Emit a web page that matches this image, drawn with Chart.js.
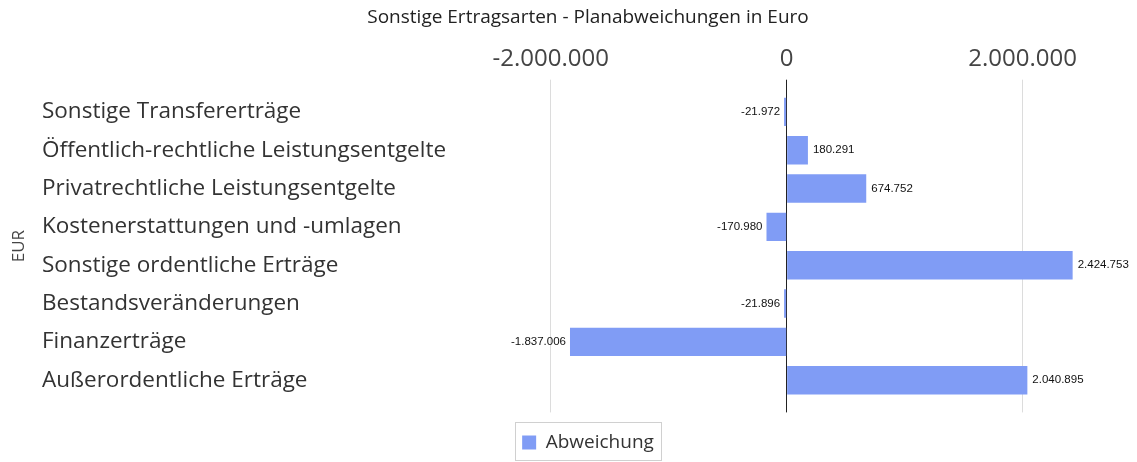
<!DOCTYPE html>
<html>
<head>
<meta charset="utf-8">
<script src="https://cdn.jsdelivr.net/npm/chart.js@4.4.1/dist/chart.umd.min.js"></script>
<style>
  html, body { margin: 0; padding: 0; background: #ffffff; }
  #c { display: block; }
</style>
</head>
<body>
<canvas id="c" width="1137" height="462"></canvas>
<script>
const categories = [
  'Sonstige Transfererträge',
  'Öffentlich-rechtliche Leistungsentgelte',
  'Privatrechtliche Leistungsentgelte',
  'Kostenerstattungen und -umlagen',
  'Sonstige ordentliche Erträge',
  'Bestandsveränderungen',
  'Finanzerträge',
  'Außerordentliche Erträge'
];
const abweichung = [-21972, 180291, 674752, -170980, 2424753, -21896, -1837006, 2040895];
const tickValues = [-2000000, 0, 2000000];
const seriesName = 'Abweichung';
const chartTitle = 'Sonstige Ertragsarten - Planabweichungen in Euro';
const axisTitle = 'EUR';

const BAR_COLOR = '#809CF5';
const GRID_COLOR = '#dcdcdc';
const ZERO_COLOR = '#222222';

function fmt(v) {
  const s = Math.abs(Math.round(v)).toString().replace(/\B(?=(\d{3})+(?!\d))/g, '.');
  return (v < 0 ? '-' : '') + s;
}
function gridColor(ctx) {
  return (ctx.tick && ctx.tick.value === 0) ? ZERO_COLOR : GRID_COLOR;
}
function setTicks(scale) {
  scale.ticks = tickValues.map(v => ({ value: v }));
}

const valueLabels = {
  id: 'valueLabels',
  afterDatasetsDraw(chart) {
    const ctx = chart.ctx;
    const meta = chart.getDatasetMeta(0);
    ctx.save();
    ctx.font = '11.5px "Liberation Sans", Arial, sans-serif';
    ctx.fillStyle = '#111111';
    ctx.textBaseline = 'middle';
    meta.data.forEach((bar, i) => {
      const v = chart.data.datasets[0].data[i];
      const txt = fmt(v);
      if (v >= 0) {
        ctx.textAlign = 'left';
        ctx.fillText(txt, bar.x + 5, bar.y);
      } else {
        ctx.textAlign = 'right';
        ctx.fillText(txt, bar.x - 4, bar.y);
      }
    });
    ctx.restore();
  }
};

const extras = {
  id: 'extras',
  afterDraw(chart) {
    const ctx = chart.ctx;
    const area = chart.chartArea;
    ctx.save();
    ctx.translate(19, (area.top + area.bottom) / 2);
    ctx.rotate(-Math.PI / 2);
    ctx.font = '17px "Open Sans", sans-serif';
    ctx.fillStyle = '#444444';
    ctx.textAlign = 'center';
    ctx.textBaseline = 'middle';
    ctx.fillText(axisTitle, 0, 0);
    ctx.restore();
    const hb = chart.legend && chart.legend.legendHitBoxes && chart.legend.legendHitBoxes[0];
    if (hb) {
      ctx.save();
      ctx.strokeStyle = '#d0d0d0';
      ctx.lineWidth = 1;
      const l = Math.round(hb.left - 7) + 0.5;
      const r = Math.round(hb.left + hb.width + 7) + 0.5;
      const t = Math.round(hb.top - 11) + 0.5;
      const b = Math.round(hb.top + hb.height + 8) + 0.5;
      ctx.strokeRect(l, t, r - l, b - t);
      ctx.restore();
    }
  }
};

new Chart(document.getElementById('c'), {
  type: 'bar',
  data: {
    labels: categories,
    datasets: [{
      label: seriesName,
      data: abweichung,
      backgroundColor: BAR_COLOR,
      borderWidth: 0,
      categoryPercentage: 0.74,
      barPercentage: 1.0,
      xAxisID: 'x'
    }]
  },
  options: {
    indexAxis: 'y',
    responsive: false,
    animation: false,
    devicePixelRatio: 1,
    layout: { padding: { left: 42, right: 3, top: 0, bottom: 0 } },
    plugins: {
      title: {
        display: true,
        text: chartTitle,
        color: '#222222',
        font: { family: '"Open Sans", sans-serif', size: 19, weight: 'normal' },
        padding: { top: 6.5, bottom: 9.5 }
      },
      legend: {
        display: true,
        position: 'bottom',
        labels: {
          boxWidth: 14,
          boxHeight: 14,
          padding: 10,
          color: '#333333',
          font: { family: '"Open Sans", sans-serif', size: 19 }
        }
      },
      tooltip: { enabled: false }
    },
    scales: {
      x: {
        type: 'linear',
        position: 'top',
        min: -2500000,
        max: 2945000,
        afterBuildTicks: setTicks,
        afterFit(scale) { scale.height = 53.9; },
        grid: { color: gridColor, tickLength: 13, drawTicks: true, lineWidth: 1 },
        border: { display: false },
        ticks: {
          padding: 6,
          color: '#444444',
          font: { family: '"Open Sans", sans-serif', size: 24 },
          callback: (v) => fmt(v)
        }
      },
      x2: {
        type: 'linear',
        position: 'bottom',
        min: -2500000,
        max: 2945000,
        afterBuildTicks: setTicks,
        afterFit(scale) { scale.height = 23.6; },
        grid: { color: gridColor, tickLength: 13, drawTicks: true, drawOnChartArea: false, lineWidth: 1 },
        border: { display: false },
        ticks: { display: false }
      },
      y: {
        position: 'left',
        afterFit(scale) { scale.width = 449.8; },
        grid: { display: false },
        border: { display: false },
        ticks: {
          crossAlign: 'far',
          color: '#333333',
          font: { family: '"Open Sans", sans-serif', size: 22.5 }
        }
      }
    }
  },
  plugins: [valueLabels, extras]
});
</script>
</body>
</html>
